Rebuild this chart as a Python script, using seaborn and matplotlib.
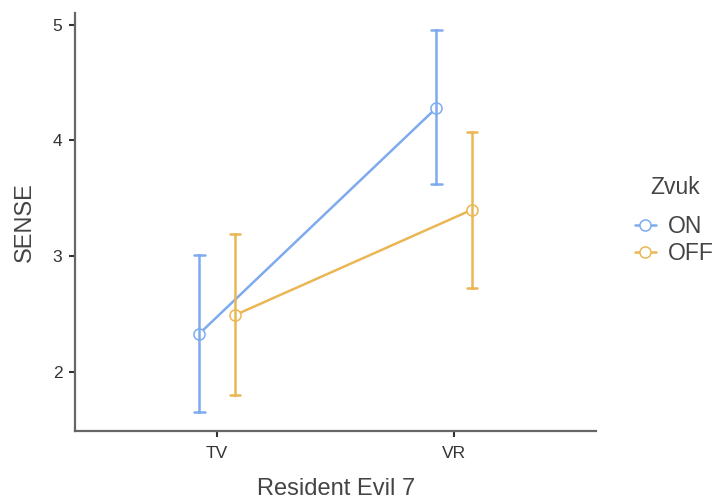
import pandas as pd
import matplotlib
matplotlib.use("Agg")
import matplotlib.pyplot as plt
import seaborn as sns

# values (mean with CI bounds)
groups = ["TV", "VR"]
zvuk = ["ON", "OFF"]
means_on = [2.33, 4.28]
lower_on = [1.65, 3.62]
upper_on = [3.01, 4.95]
means_off = [2.49, 3.40]
lower_off = [1.80, 2.72]
upper_off = [3.19, 4.07]

rows = []
for g, z, lo, m, hi in zip(groups * 2, ["ON"] * 2 + ["OFF"] * 2,
                           lower_on + lower_off, means_on + means_off,
                           upper_on + upper_off):
    for v in (lo, m, hi):
        rows.append({"Resident Evil 7": g, "Zvuk": z, "SENSE": v})
df = pd.DataFrame(rows)

sns.set_style("ticks")
plt.rcParams["font.family"] = ["Liberation Sans", "DejaVu Sans"]

fig = plt.figure(figsize=(7.21, 5.01), dpi=100)
ax = fig.add_axes([0.104, 0.14, 0.723, 0.834])

sns.pointplot(data=df, x="Resident Evil 7", y="SENSE", hue="Zvuk",
              hue_order=zvuk, order=groups,
              palette=["#7eaaee", "#ebb654"],
              estimator="median", errorbar=lambda x: (x.min(), x.max()),
              dodge=0.15, capsize=0.045, err_kws={"linewidth": 1.8},
              markers="o", markersize=8, mfc="white", mew=1.1,
              linewidth=1.8, ax=ax)

ax.set_xlim(-0.6, 1.6)
ax.set_ylim(1.49, 5.10)
ax.set_yticks([2, 3, 4, 5])
ax.set_xlabel("Resident Evil 7", fontsize=17, color="#444444", labelpad=12)
ax.set_ylabel("SENSE", fontsize=17, color="#444444", labelpad=12)
ax.tick_params(colors="#333333", labelsize=12.5, length=4, width=1.5, pad=5)
ax.tick_params(axis="x", pad=7)
for s in ["left", "bottom"]:
    ax.spines[s].set_color("#666666")
    ax.spines[s].set_linewidth(1.6)
sns.despine(ax=ax)

sns.move_legend(ax, "center left", bbox_to_anchor=(1.035, 0.503), frameon=False,
                title="Zvuk", fontsize=16.5, title_fontsize=16.5,
                handlelength=0.9, handletextpad=0.55, labelspacing=0.2)
leg = ax.get_legend()
leg._legend_box.sep = 11
for t in leg.get_texts():
    t.set_color("#444444")
leg.get_title().set_color("#444444")

fig.savefig("out.png", dpi=100)
